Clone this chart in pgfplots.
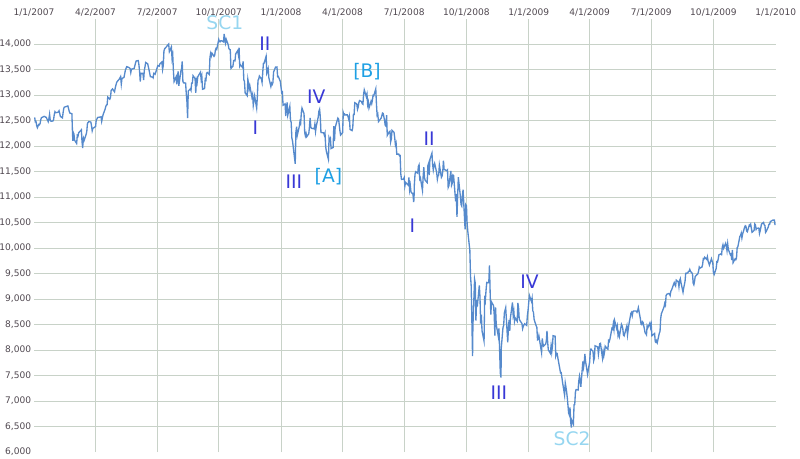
\documentclass[border=0pt]{standalone}
\usepackage{fontspec}
\setmainfont{DejaVu Sans}
\usepackage{pgfplots}
\pgfplotsset{compat=1.18}
\definecolor{romanc}{RGB}{56,56,214}
\definecolor{brc}{RGB}{30,160,228}
\definecolor{scc}{RGB}{150,214,240}
\definecolor{linec}{RGB}{86,138,204}
\definecolor{gridc}{RGB}{200,210,200}
\definecolor{tickc}{RGB}{80,72,80}
\begin{document}
\begin{tikzpicture}
\begin{axis}[
  at={(0,0)}, anchor=south west, scale only axis,
  width=556.3pt, height=325.1pt,
  xmin=0, xmax=1096, ymin=6000, ymax=14500,
  clip=false,
  axis line style={draw=none},
  major tick length=0pt,
  xtick={0,91,182,273,365,456,547,639,731,821,912,1004,1096},
  xticklabels={1/1/2007,4/2/2007,7/2/2007,10/1/2007,1/1/2008,4/1/2008,7/1/2008,10/1/2008,1/1/2009,4/1/2009,7/1/2009,10/1/2009,1/1/2010},
  xticklabel pos=top,
  ytick={6000,6500,...,14000},
  scaled y ticks=false,
  yticklabel={\pgfmathprintnumber[1000 sep={,},assume math mode=true,fixed,precision=0]{\tick}},
  ticklabel style={font=\fontsize{6.8}{8}\selectfont, text=tickc},
  xticklabel style={inner sep=1.5pt},
  yticklabel style={inner sep=2pt},
  extra x ticks={91,182,273,365,456,547,639,731,821,912,1004},
  extra x tick labels={},
  extra x tick style={grid=major, major grid style={gridc, line width=0.75pt}},
  extra y ticks={6500,7000,...,14000},
  extra y tick labels={},
  extra y tick style={grid=major, major grid style={gridc, line width=0.75pt}},
]
\addplot[linec, line width=1pt, mark=none] coordinates {
(1,12560) (2,12474) (3,12480) (4,12398) (5,12360) (7,12423) (8,12416) (9,12442) (10,12514) (11,12556) (15,12582) (16,12577) (17,12567) (18,12565) (21,12477) (22,12533) (23,12621) (24,12502) (25,12487) (28,12490) (29,12523) (30,12622)
(31,12673) (32,12653) (35,12661) (36,12666) (37,12690) (38,12637) (39,12580) (42,12552) (43,12654) (44,12741) (45,12765) (46,12767) (50,12786) (51,12738) (52,12686) (53,12647) (56,12632) (57,12216) (57.5,12100) (58,12268)
(59,12234) (60,12114) (63,12050) (64,12207) (65,12192) (66,12260) (67,12276) (70,12318) (71,12075) (72,11960) (72.5,12133) (73,12159) (74,12110) (77,12226) (78,12288) (79,12447) (80,12461) (81,12481) (84,12469) (85,12397) (86,12300) (87,12348) (88,12354)
(91,12383) (92,12511) (93,12530) (94,12560) (98,12569) (99,12573) (100,12484) (101,12553) (102,12612) (105,12720) (106,12773) (107,12803) (108,12808) (109,12961) (112,12919) (113,12953) (114,13089) (115,13105) (116,13120) (119,13063)
(120,13136) (122,13241) (123,13265) (126,13312) (128,13362) (129,13215) (130,13326) (133,13346) (135,13487) (137,13556) (140,13542) (142,13522) (143,13441) (144,13507) (148,13521) (150,13627)
(151,13668) (154,13676) (155,13596) (156,13467) (157,13266) (158,13424) (161,13424) (162,13295) (163,13482) (164,13553) (165,13639) (168,13612) (170,13490) (172,13360) (175,13352) (176,13337) (177,13427) (178,13422) (179,13409)
(182,13535) (183,13577) (185,13565) (186,13612) (189,13649) (190,13501) (191,13577) (192,13861) (193,13907) (196,13950) (197,13971) (199,14000) (200,13851) (203,13943) (204,13716) (205,13785) (206,13473) (207,13265) (210,13358) (211,13212)
(212,13362) (213,13463) (214,13182) (217,13468) (218,13504) (219,13658) (220,13270) (221,13239) (224,13236) (225,13029) (226,12861) (227,12550) (227.5,12845) (228,13079) (231,13121) (232,13091) (233,13236) (234,13235) (235,13379) (238,13322) (239,13041) (240,13289) (241,13238) (242,13358)
(246,13448) (247,13305) (248,13363) (249,13113) (252,13127) (253,13308) (254,13291) (255,13424) (256,13442) (259,13403) (260,13739) (261,13815) (262,13766) (263,13820) (266,13759) (267,13779) (268,13878) (269,13912) (270,13896)
(273,14088) (274,14047) (275,14044) (276,14066) (277,14066) (280,14043) (281,14198) (282,14078) (283,14015) (284,14093) (287,13985) (288,13912) (289,13893) (290,13889) (291,13522) (294,13567) (295,13676) (296,13675) (297,13671) (298,13807) (301,13870) (302,13792) (303,13930)
(304,13567) (305,13595) (308,13543) (309,13661) (310,13300) (311,13266) (312,13043) (315,12988) (316,13307) (317,13231) (318,13110) (319,13177) (322,12958) (323,13010) (324,12800) (326,12981) (329,12743) (330,12958) (331,13289) (332,13311) (333,13372)
(336,13315) (337,13249) (338,13445) (339,13620) (340,13626) (343,13760) (344,13432) (345,13473) (346,13518) (347,13339) (350,13167) (351,13232) (352,13207) (353,13245) (354,13450) (357,13550) (359,13551) (360,13359) (361,13365) (364,13265)
(366,13044) (367,13057) (368,12800) (371,12827) (372,12589) (373,12735) (374,12853) (375,12606) (378,12778) (379,12501) (380,12466) (381,12159) (382,12099) (386,11650) (386.5,11971) (387,12270) (388,12378) (389,12207) (392,12384) (393,12480) (394,12443) (395,12650)
(396,12743) (399,12635) (400,12265) (401,12200) (402,12248) (403,12182) (406,12240) (407,12373) (408,12552) (409,12376) (410,12348) (414,12337) (415,12427) (416,12284) (417,12381) (420,12570) (421,12684) (422,12720) (423,12582) (424,12266)
(428,12258) (429,12213) (430,12254) (431,11987) (432,11894) (435,11740) (436,12156) (437,12110) (438,12145) (439,11951) (442,11972) (443,12392) (444,12099) (445,12361) (449,12548) (450,12533) (451,12422) (452,12302) (453,12216) (456,12263)
(457,12654) (458,12608) (459,12626) (460,12609) (463,12612) (464,12577) (465,12527) (466,12582) (467,12325) (470,12302) (471,12362) (472,12619) (473,12620) (474,12849) (477,12825) (478,12720) (479,12763) (480,12849) (481,12891) (484,12871) (485,12832) (486,12820)
(487,13010) (488,13100) (491,12969) (492,13020) (493,12814) (494,12866) (495,12745) (498,12876) (499,12832) (500,12898) (501,12992) (502,12986) (505,13120) (506,12828) (507,12601) (508,12625) (509,12479) (513,12548) (514,12594) (515,12646) (516,12638)
(518,12503) (519,12402) (520,12390) (521,12604) (522,12209) (525,12280) (526,12289) (527,12083) (528,12141) (529,12307) (532,12269) (533,12160) (534,12029) (535,12063) (536,11842) (539,11842) (540,11808) (541,11812) (542,11453) (543,11346) (546,11350)
(547,11382) (548,11215) (549,11288) (553,11231) (554,11384) (555,11147) (556,11229) (557,11100) (560,11055) (561,10900) (561.5,10963) (562,11239) (563,11446) (564,11496) (567,11467) (568,11602) (569,11632) (570,11349) (571,11370) (574,11131) (575,11397) (576,11583) (577,11378)
(578,11326) (581,11284) (582,11615) (583,11656) (584,11432) (585,11734) (588,11860) (589,11642) (590,11532) (591,11615) (592,11659) (595,11479) (596,11348) (597,11417) (598,11430) (599,11628) (602,11387) (603,11413) (604,11502) (605,11715) (606,11543)
(610,11516) (611,11532) (612,11188) (613,11220) (616,11510) (617,11231) (618,11268) (619,11433) (620,11421) (623,10918) (624,11059) (625,10609) (626,11019) (627,11388) (630,11016) (631,10854) (632,10825) (633,11022) (634,11143) (637,10365) (638,10851)
(639,10831) (640,10483) (641,10325) (644,9955) (645,9447) (646,9258) (647,8579) (648,7880) (648.5,8451) (651,9387) (652,9310) (653,8577) (654,8979) (655,8852) (658,9265) (659,9033) (660,8519) (661,8691) (662,8378) (665,8175) (666,9065) (667,8991) (668,9180) (669,9325)
(672,9319) (673,9660) (674,9139) (675,8695) (676,8943) (679,8870) (680,8693) (681,8283) (682,8835) (683,8497) (686,8273) (687,8424) (688,7997) (689,7552) (690,7460) (690.5,8046) (693,8443) (694,8479) (695,8727) (697,8829)
(700,8149) (701,8419) (702,8591) (703,8376) (704,8635) (707,8934) (708,8691) (709,8761) (710,8565) (711,8629) (714,8564) (715,8924) (716,8824) (717,8604) (718,8579) (721,8519) (722,8419) (723,8468) (725,8515) (728,8483) (729,8668) (730,8776)
(732,9070) (735,8953) (736,9015) (737,8769) (738,8742) (739,8599) (742,8474) (743,8448) (744,8200) (745,8212) (746,8281) (750,7949) (751,8228) (752,8123) (753,8077) (756,8116) (757,8175) (758,8375) (759,8149) (760,8001)
(763,7936) (764,8078) (765,7957) (766,8063) (767,8280) (770,8270) (771,7889) (772,7939) (773,7933) (774,7850) (778,7553) (779,7556) (780,7466) (781,7366) (784,7115) (785,7351) (786,7271) (787,7183) (788,7063)
(790,6763) (791,6726) (792,6876) (793,6594) (794,6480) (794.5,6627) (797,6547) (798,6926) (799,6930) (800,7170) (801,7224) (804,7216) (805,7395) (806,7486) (807,7400) (808,7278) (811,7776) (812,7660) (813,7750) (814,7924) (815,7776) (818,7522) (819,7609)
(821,7761) (822,7978) (823,8017) (826,7975) (827,7789) (828,7837) (829,8083) (833,8058) (834,7920) (835,8029) (836,8125) (837,8131) (840,7842) (841,7969) (842,7886) (843,7957) (844,8076) (847,8025) (848,8016) (849,8185) (850,8168)
(851,8212) (854,8426) (855,8410) (856,8512) (857,8409) (858,8575) (861,8418) (862,8469) (863,8284) (864,8331) (865,8268) (868,8504) (869,8474) (870,8422) (871,8292) (872,8277) (876,8473) (877,8300) (878,8403) (879,8500)
(882,8721) (883,8740) (884,8675) (885,8750) (886,8764) (889,8764) (890,8763) (891,8740) (892,8770) (893,8830) (896,8613) (897,8505) (898,8497) (899,8555) (900,8539) (903,8339) (904,8323) (905,8299) (906,8472) (907,8438) (910,8529) (911,8447)
(912,8504) (913,8280) (917,8324) (918,8163) (919,8150) (920,8184) (921,8147) (924,8332) (925,8359) (926,8616) (927,8712) (928,8743) (931,8848) (932,8916) (933,8882) (934,9069) (935,9093) (938,9108) (939,9096) (940,9070) (941,9154) (942,9172)
(945,9286) (946,9320) (947,9280) (948,9256) (949,9370) (952,9337) (953,9241) (954,9361) (955,9398) (956,9321) (959,9135) (960,9218) (961,9279) (962,9350) (963,9506) (966,9509) (967,9539) (968,9543) (969,9580) (970,9544) (973,9496)
(974,9310) (975,9280) (976,9345) (977,9441) (981,9497) (982,9547) (983,9627) (984,9605) (987,9626) (988,9683) (989,9791) (990,9783) (991,9820) (994,9778) (995,9829) (996,9748) (997,9707) (998,9665) (1001,9789) (1002,9742) (1003,9712)
(1004,9509) (1005,9480) (1008,9599) (1009,9731) (1010,9725) (1011,9786) (1012,9865) (1015,9885) (1016,9871) (1017,10015) (1018,10062) (1019,9996) (1022,10092) (1023,10041) (1024,9949) (1025,10081) (1026,9972) (1029,9868) (1030,9882) (1031,9762) (1032,9962) (1033,9712)
(1036,9789) (1037,9771) (1038,9802) (1039,10005) (1040,10023) (1043,10227) (1044,10247) (1045,10291) (1046,10197) (1047,10270) (1050,10406) (1051,10437) (1052,10426) (1053,10332) (1054,10318) (1057,10450) (1058,10433) (1059,10464) (1061,10309) (1064,10345)
(1065,10471) (1066,10453) (1067,10366) (1068,10388) (1071,10390) (1072,10286) (1073,10337) (1074,10405) (1075,10471) (1078,10501) (1079,10452) (1080,10441) (1081,10308) (1082,10328) (1085,10414) (1086,10464) (1087,10466) (1088,10520) (1092,10548) (1093,10545) (1094,10548) (1095,10450)
};
\tikzset{lab/.style={font=\fontsize{14}{16}\selectfont, inner sep=0pt, anchor=center}}
\node[lab, text=scc] at (axis cs:282,14412) {SC1};
\node[lab, text=romanc] at (axis cs:341,14000) {II};
\node[lab, text=romanc] at (axis cs:327,12354) {I};
\node[lab, text=romanc] at (axis cs:384,11295) {III};
\node[lab, text=romanc] at (axis cs:417,12961) {IV};
\node[lab, text=brc] at (axis cs:435,11393) {[A]};
\node[lab, text=brc] at (axis cs:492,13451) {[B]};
\node[lab, text=romanc] at (axis cs:559,10433) {I};
\node[lab, text=romanc] at (axis cs:584,12138) {II};
\node[lab, text=romanc] at (axis cs:687,7160) {III};
\node[lab, text=romanc] at (axis cs:732,9335) {IV};
\node[lab, text=scc] at (axis cs:795,6258) {SC2};
\end{axis}
\pgfresetboundingbox
\path (-25.5pt,-4.5pt) rectangle (574.5pt,339pt);
\end{tikzpicture}
\end{document}
